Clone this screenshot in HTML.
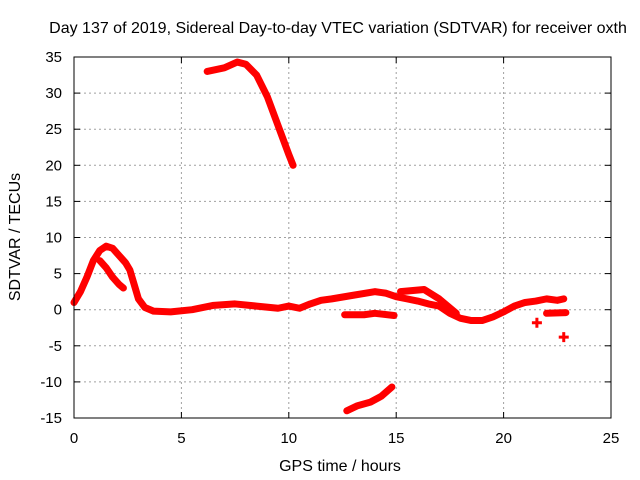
<!DOCTYPE html>
<html><head><meta charset="utf-8"><style>
body{margin:0;background:#fff}
svg{display:block;font-family:"Liberation Sans",sans-serif;font-size:15px}
</style></head><body>
<svg id="c" width="640" height="480">
<rect width="640" height="480" fill="#fff"/>
<g id="grid"></g>
<g id="series"></g>
<rect x="74" y="57" width="537" height="361" fill="none" stroke="#000" stroke-width="1"/>
<g id="ticks"></g>
<text x="338" y="33" text-anchor="middle" font-size="16">Day 137 of 2019, Sidereal Day-to-day VTEC variation (SDTVAR) for receiver oxth</text>
<text x="340" y="471" text-anchor="middle" font-size="16">GPS time / hours</text>
<text x="0" y="0" transform="translate(20,237) rotate(-90)" text-anchor="middle" font-size="16">SDTVAR / TECUs</text>
</svg>
<script>
const xTicks=[0,5,10,15,20,25];
const yTicks=[35,30,25,20,15,10,5,0,-5,-10,-15];
const mainX=[0,0.3,0.6,0.9,1.2,1.5,1.8,2.1,2.4,2.6,2.8,3.0,3.3,3.7,4.5,5.5,6.5,7.5,8.5,9.5,10,10.5,11,11.5,12,13,14,14.5,15,15.5,16,16.5,17,17.5,18,18.5,19,19.5,20,20.5,21,21.5,22,22.5,22.8];
const mainY=[1,2.5,4.5,6.8,8.2,8.8,8.5,7.5,6.5,5.5,3.5,1.5,0.3,-0.2,-0.3,0,0.6,0.8,0.5,0.2,0.5,0.2,0.8,1.3,1.5,2,2.5,2.3,1.8,1.5,1.2,0.8,0.5,-0.5,-1.2,-1.5,-1.5,-1,-0.3,0.5,1,1.2,1.5,1.3,1.5];
const innerX=[1.2,1.5,1.8,2.1,2.3];
const innerY=[6.8,5.8,4.5,3.5,3];
const branchX=[15.2,16.3,17,17.8];
const branchY=[2.5,2.8,1.5,-0.5];
const upperX=[6.2,7,7.6,8,8.5,9,9.5,10,10.2];
const upperY=[33,33.5,34.3,34,32.5,29.5,25.5,21.5,20];
const lowerX=[12.7,13.2,13.8,14.3,14.8];
const lowerY=[-14,-13.3,-12.8,-12,-10.7];
const midX=[12.6,13.5,14,14.9];
const midY=[-0.7,-0.7,-0.5,-0.8];
const lateX=[22.0,22.9];
const lateY=[-0.5,-0.4];
const dotX=[21.55,22.8];
const dotY=[-1.8,-3.8];
const NS="http://www.w3.org/2000/svg";
const sx=v=>74+v*537/25, sy=v=>57+(35-v)*361/50;
const grid=document.getElementById('grid'),ticks=document.getElementById('ticks'),ser=document.getElementById('series');
function mk(t,a,p){const e=document.createElementNS(NS,t);for(const k in a)e.setAttribute(k,a[k]);p.appendChild(e);return e;}
xTicks.forEach(v=>{const x=sx(v);
 if(v>0&&v<25){const l=mk('line',{x1:x,x2:x,y1:57,y2:418,stroke:'#a0a0a0','stroke-dasharray':'2,3'},grid);
 }
 mk('line',{x1:x,x2:x,y1:418,y2:412,stroke:'#000'},ticks);mk('line',{x1:x,x2:x,y1:57,y2:63,stroke:'#000'},ticks);
 const t=mk('text',{x:x,y:443,'text-anchor':'middle'},ticks);t.textContent=v;
 });
yTicks.forEach(v=>{const y=sy(v);
 if(v<35&&v>-15){const l=mk('line',{x1:74,x2:611,y1:y,y2:y,stroke:'#a0a0a0','stroke-dasharray':'2,3'},grid);
 }
 mk('line',{x1:74,x2:80,y1:y,y2:y,stroke:'#000'},ticks);mk('line',{x1:611,x2:605,y1:y,y2:y,stroke:'#000'},ticks);
 const t=mk('text',{x:62,y:y+5,'text-anchor':'end'},ticks);t.textContent=v;
 });
function line(X,Y,name){const p=mk('polyline',{points:X.map((x,i)=>sx(x)+','+sy(Y[i])).join(' '),fill:'none',stroke:'#f00','stroke-width':7,'stroke-linejoin':'round','stroke-linecap':'round'},ser);
 }
line(mainX,mainY,'main-series');line(innerX,innerY,'inner-strand');line(branchX,branchY,'branch-series');
line(upperX,upperY,'upper-series');line(lowerX,lowerY,'lower-series');line(midX,midY,'mid-series');line(lateX,lateY,'late-series');
dotX.forEach((x,i)=>{const g=mk('path',{d:`M${sx(x)-5},${sy(dotY[i])}h10M${sx(x)},${sy(dotY[i])-5}v10`,stroke:'#f00','stroke-width':3},ser);
 });
</script>
</body></html>
